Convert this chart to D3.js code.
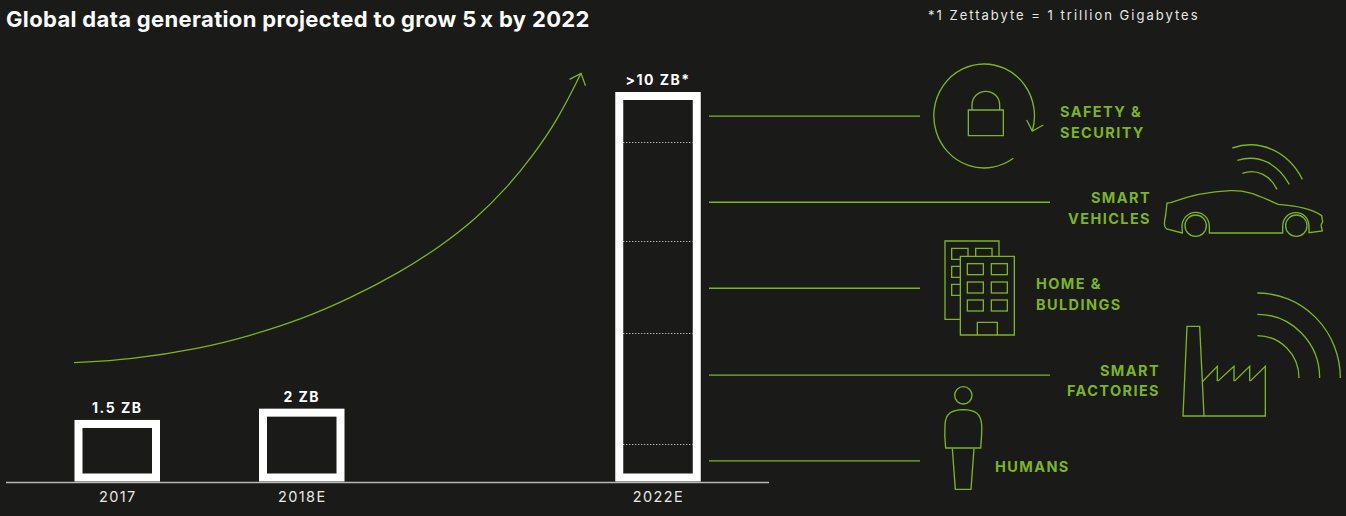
<!DOCTYPE html>
<html><head><meta charset="utf-8">
<script src="https://cdn.jsdelivr.net/npm/d3@7/dist/d3.min.js"></script>
<style>
html,body{margin:0;padding:0;background:#1a1a18;overflow:hidden}
svg{display:block}
text{font-family:Inter,"Noto Sans",sans-serif}
</style></head><body>
<svg id="c" width="1346" height="516"></svg>
<script>
const categories = ["2017","2018E","2022E"];
const barHeights = [1.58,1.87,10];          // plotted height
const barLabels = ["1.5 ZB","2 ZB",">10 ZB*"];
const dividers = [8.72,6.17,3.81,0.95];     // dotted separators inside the tall bar
const segments = ["Safety & Security","Smart Vehicles","Home & Buildings","Smart Factories","Humans"];
const segmentLevels = [9.38,7.17,4.96,2.73,0.53];
const segmentLineEnds = [920,1050,920,1050,920];
const trendX = [0,0.110,0.2485,0.347,0.446,0.5444,0.643,0.722,0.794,0.853,0.906,0.955,1];
const trendY = [3.05,3.13,3.41,3.74,4.15,4.70,5.37,6.03,6.76,7.53,8.38,9.31,10.48];

const BG="#1a1a18",GREEN="#7cb51f",WHITE="#ffffff",TXT="#e8e8e6";
const svg=d3.select("#c");
svg.append("rect").attr("width",1346).attr("height",516).attr("fill",BG);

const x=d3.scaleOrdinal().domain(categories).range([117.25,301.75,658]);
const y=d3.scaleLinear().domain([0,10]).range([481.5,92]);
const bw=85.5, bs=8;

svg.append("text").attr("x",6).attr("y",27).attr("fill",WHITE)
  .attr("font-size",22).attr("letter-spacing",0.34).attr("font-weight",700).text("Global data generation projected to grow 5\u2009x by 2022");
svg.append("text").attr("x",928).attr("y",20).attr("fill",TXT)
  .attr("font-size",13).attr("letter-spacing",2).text("*1 Zettabyte = 1 trillion Gigabytes");

// bars
svg.selectAll("rect.bar").data(categories).join("rect").attr("class","bar")
  .attr("x",d=>x(d)-bw/2+bs/2).attr("width",bw-bs)
  .attr("y",(d,i)=>y(barHeights[i])+bs/2).attr("height",(d,i)=>y(0)-y(barHeights[i])-bs)
  .attr("fill","none").attr("stroke",WHITE).attr("stroke-width",bs);
svg.selectAll("text.bl").data(barLabels).join("text").attr("class","bl")
  .attr("x",(d,i)=>x(categories[i])).attr("y",(d,i)=>y(barHeights[i])-7)
  .attr("text-anchor","middle").attr("fill",WHITE).attr("font-size",14)
  .attr("font-weight",700).attr("letter-spacing",1.5).text(d=>d);

svg.selectAll("line.div").data(dividers).join("line").attr("class","div")
  .attr("x1",x("2022E")-bw/2+bs).attr("x2",x("2022E")+bw/2-bs)
  .attr("y1",d=>Math.round(y(d))+0.5).attr("y2",d=>Math.round(y(d))+0.5)
  .attr("stroke","#f0f0f0").attr("stroke-width",1).attr("stroke-dasharray","1 2");

// axis
svg.append("line").attr("x1",6).attr("x2",769).attr("y1",482.5).attr("y2",482.5)
  .attr("stroke","#b8b8b6").attr("stroke-width",1.5);
const ax=svg.append("g").attr("transform","translate(0,483)")
  .call(d3.axisBottom(x).tickSize(0).tickPadding(9));
ax.select(".domain").remove();
ax.selectAll("text").style("font-family","Inter,sans-serif").attr("font-size",14.5)
  .attr("fill",TXT).attr("letter-spacing",1.4);

// growth arrow
const tx=d3.scaleLinear().domain([0,1]).range([74,581]);
const trend=d3.line().x((d,i)=>tx(trendX[i])).y(d=>y(d)).curve(d3.curveBasis);
svg.append("path").attr("d",trend(trendY)).attr("fill","none").attr("stroke",GREEN).attr("stroke-width",1.3);
const tipX=tx(1),tipY=y(trendY[trendY.length-1]);
svg.append("path").attr("d",`M${tipX-11.5},${tipY+6}L${tipX},${tipY}L${tipX+4.5},${tipY+12.5}`)
  .attr("fill","none").attr("stroke",GREEN).attr("stroke-width",1.3);

// segment connector lines
svg.selectAll("line.seg").data(segments).join("line").attr("class","seg")
  .attr("x1",709).attr("x2",(d,i)=>segmentLineEnds[i])
  .attr("y1",(d,i)=>y(segmentLevels[i])).attr("y2",(d,i)=>y(segmentLevels[i]))
  .attr("stroke",GREEN).attr("stroke-width",1.4);

// segment labels
const labels=[
 ["SAFETY &",1060,117,"start"],["SECURITY",1060,138,"start"],
 ["SMART",1151,203,"end"],["VEHICLES",1151,224,"end"],
 ["HOME &",1036,289,"start"],["BULDINGS",1036,310,"start"],
 ["SMART",1160,376,"end"],["FACTORIES",1160,396,"end"],
 ["HUMANS",995,472,"start"]];
svg.selectAll("text.sl").data(labels).join("text").attr("class","sl")
  .attr("x",d=>d[1]).attr("y",d=>d[2]).attr("text-anchor",d=>d[3])
  .attr("fill",GREEN).attr("font-size",14.5).attr("font-weight",700).attr("letter-spacing",1.4).text(d=>d[0]);

// icons (drawn at 3x in local units)
const icon=(tx_,ty_)=>svg.append("g").attr("transform",`translate(${tx_},${ty_}) scale(${1/3})`)
  .attr("fill","none").attr("stroke",GREEN).attr("stroke-width",4);
const a=icon(920,50);
[
 "M280,325A151,156 0 1 1 337,243",
 "M320,210L337,243L370,225",
 "M145,180H250V257H145Z",
 "M156,180V165A41.5,41 0 0 1 239,165V180",
 "M787,549L740,537C730,530 733,515 737,495L741,459L752,458C800,440 850,425 930,422C990,420 1020,440 1075,463C1120,468 1170,472 1205,497L1208,515L1203,525L1207,543L1167,548V530C1167,505 1150,488 1128,488C1105,488 1088,505 1088,530V549H868V530C868,505 850,487 827,487C805,487 786,505 786,530Z",
 "M937,294C1020,265 1105,305 1147,388",
 "M952,331C1020,310 1075,345 1108,403",
 "M967,370C1010,355 1050,375 1071,418"
].forEach(d=>a.append("path").attr("d",d));
[827,1129].forEach(cx=>a.append("circle").attr("cx",cx).attr("cy",527).attr("r",32));
const b=icon(920,230);
[
 "M121,268H75V33H237V79",
 "M144,79V55H95V88H121",
 "M167,79V55H216V79",
 "M121,109H95V142H121","M121,163H95V196H121",
 "M121,79H283V315H121Z",
 "M172,315V277H232V315",
 "M789,558L801,289H839L852,558Z",
 "M847,455L892,409V452H895L942,409V452H945L989,409V452H992L1036,409V558H852",
 "M1012,189A249,255 0 0 1 1261,444",
 "M1012,253A187,191 0 0 1 1199,444",
 "M1012,317A125,127 0 0 1 1137,444",
 "M77,654C73,620 74,600 75,585C76,550 95,540 130,539C165,540 183,550 185,585C186,600 185,620 182,654Z",
 "M97,656L106,778H153L162,656"
].forEach(d=>b.append("path").attr("d",d));
[142,214].forEach(wx=>[101,156,210].forEach(wy=>b.append("rect").attr("x",wx).attr("y",wy).attr("width",48).attr("height",33)));
b.append("circle").attr("cx",130).attr("cy",496).attr("r",26);
</script>
</body></html>
